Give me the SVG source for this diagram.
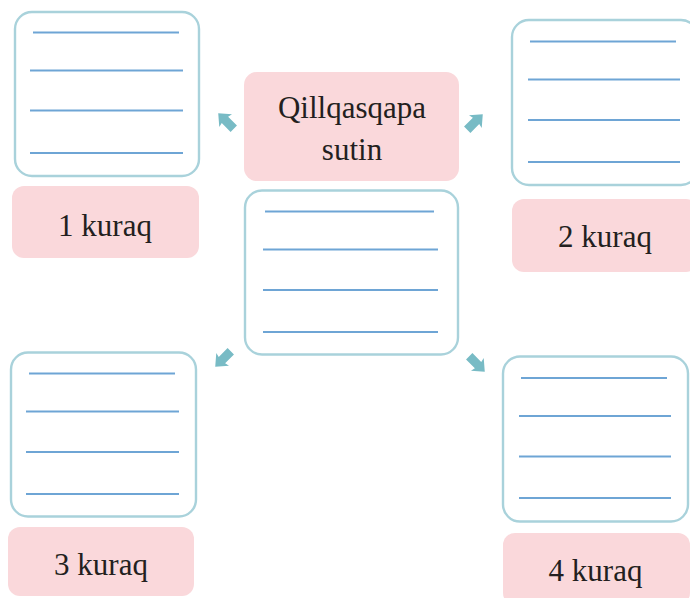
<svg xmlns="http://www.w3.org/2000/svg" width="690" height="598" viewBox="0 0 690 598">
<style>
.card{fill:#ffffff;stroke:#a9d2db;stroke-width:2.4}
.lab{fill:#fad8db}
.ln{stroke:#6ea5d5;stroke-width:1.8}
.t{font-family:"Liberation Serif","Times New Roman",serif;font-size:31px;fill:#231f20;text-anchor:middle}
.arr{fill:#78bbc5}
</style>
<defs>
<polygon id="arrow" points="-11,-4.5 1.5,-4.5 0.5,-9 11,0 0.5,9 1.5,4.5 -11,4.5"/>
</defs>
<rect width="690" height="598" fill="#ffffff"/>

<g id="center">
<rect class="lab" x="244" y="72" width="215" height="109" rx="13"/>
<text class="t" x="352" y="118">Qillqasqapa</text>
<text class="t" x="352" y="160">sutin</text>
</g>

<g id="center-card">
<rect class="card" x="245" y="190.5" width="213" height="164" rx="17"/>
<line class="ln" x1="265" y1="211.5" x2="434" y2="211.5"/>
<line class="ln" x1="263" y1="249.5" x2="438" y2="249.5"/>
<line class="ln" x1="263" y1="290" x2="438" y2="290"/>
<line class="ln" x1="263" y1="332" x2="438" y2="332"/>
</g>

<g id="node1">
<rect class="card" x="15" y="12" width="184" height="164" rx="17"/>
<line class="ln" x1="33" y1="32.5" x2="179" y2="32.5"/>
<line class="ln" x1="30" y1="70.5" x2="183" y2="70.5"/>
<line class="ln" x1="30" y1="110.5" x2="183" y2="110.5"/>
<line class="ln" x1="30" y1="153" x2="183" y2="153"/>
<rect class="lab" x="12" y="186" width="187" height="72" rx="12"/>
<text class="t" x="105" y="236">1 kuraq</text>
</g>

<g id="node2">
<rect class="card" x="512" y="20" width="186" height="165" rx="17"/>
<line class="ln" x1="530" y1="41.5" x2="676" y2="41.5"/>
<line class="ln" x1="528" y1="79.5" x2="680" y2="79.5"/>
<line class="ln" x1="528" y1="120" x2="680" y2="120"/>
<line class="ln" x1="528" y1="162" x2="680" y2="162"/>
<rect class="lab" x="512" y="199" width="186" height="73" rx="12"/>
<text class="t" x="605" y="247">2 kuraq</text>
</g>

<g id="node3">
<rect class="card" x="11" y="352.5" width="185" height="164" rx="17"/>
<line class="ln" x1="29" y1="373.5" x2="175" y2="373.5"/>
<line class="ln" x1="26" y1="411.5" x2="179" y2="411.5"/>
<line class="ln" x1="26" y1="452" x2="179" y2="452"/>
<line class="ln" x1="26" y1="494" x2="179" y2="494"/>
<rect class="lab" x="8" y="527" width="186" height="69" rx="12"/>
<text class="t" x="101" y="575">3 kuraq</text>
</g>

<g id="node4">
<rect class="card" x="503" y="356.5" width="185" height="165" rx="17"/>
<line class="ln" x1="521" y1="378" x2="667" y2="378"/>
<line class="ln" x1="519" y1="416" x2="671" y2="416"/>
<line class="ln" x1="519" y1="456.5" x2="671" y2="456.5"/>
<line class="ln" x1="519" y1="498" x2="671" y2="498"/>
<rect class="lab" x="503" y="533" width="187" height="72" rx="12"/>
<text class="t" x="595.5" y="581">4 kuraq</text>
</g>

<g id="connectors">
<use href="#arrow" class="arr" transform="translate(226,121) rotate(-135)"/>
<use href="#arrow" class="arr" transform="translate(475,122) rotate(-45)"/>
<use href="#arrow" class="arr" transform="translate(223,359) rotate(135)"/>
<use href="#arrow" class="arr" transform="translate(477,364) rotate(45)"/>
</g>
</svg>
